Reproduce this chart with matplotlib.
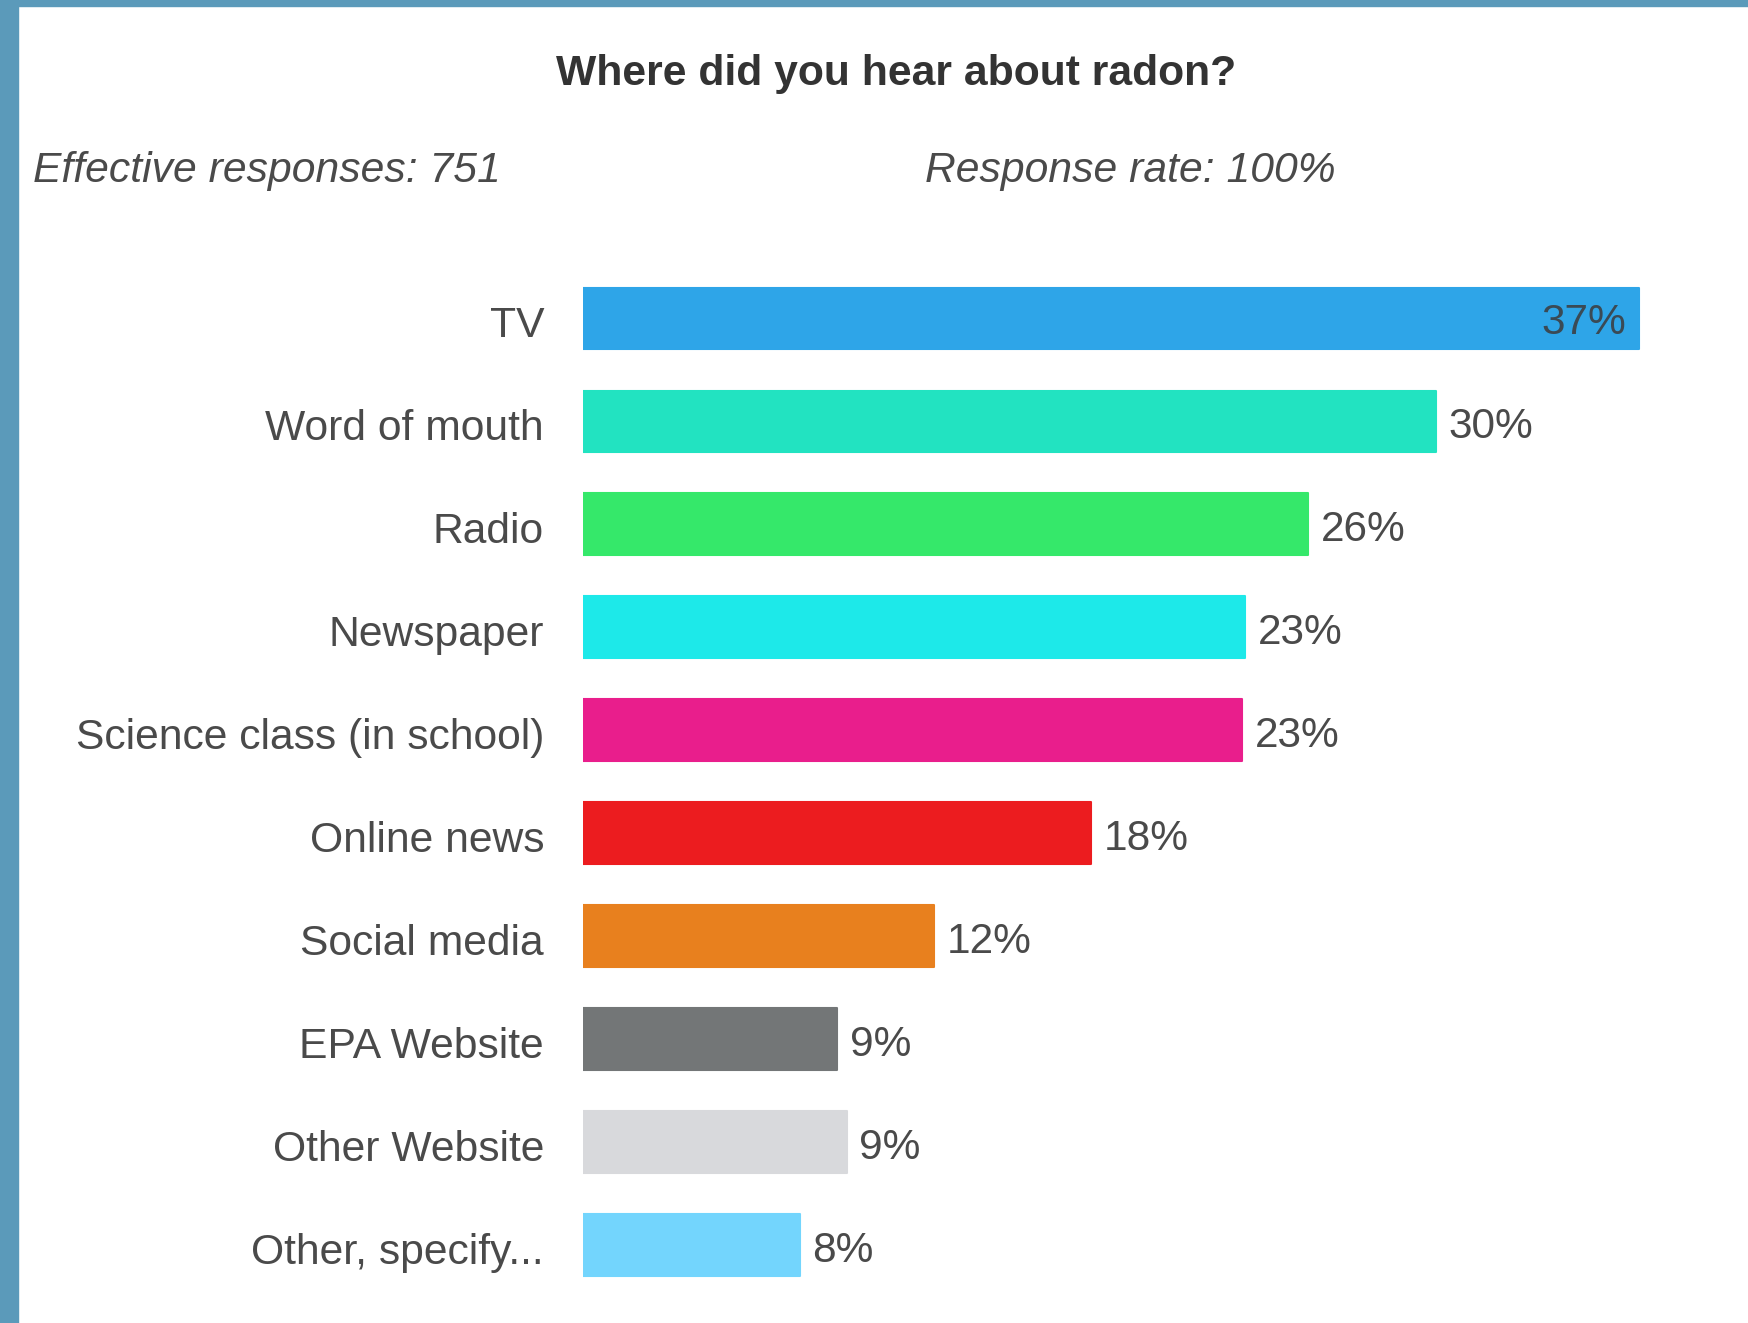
import matplotlib
matplotlib.use("Agg")
import matplotlib.pyplot as plt
from matplotlib.patches import Rectangle
from matplotlib.transforms import ScaledTranslation

categories = ["TV", "Word of mouth", "Radio", "Newspaper", "Science class (in school)",
              "Online news", "Social media", "EPA Website", "Other Website", "Other, specify..."]
values = [37.0, 29.9, 25.4, 23.2, 23.1, 17.8, 12.3, 8.9, 9.25, 7.6]
labels = ["37%", "30%", "26%", "23%", "23%", "18%", "12%", "9%", "9%", "8%"]
colors = ["#2ea5e8", "#22e3c1", "#35e86a", "#1de9e9", "#e91e8c",
          "#ec1c1f", "#e8801e", "#737677", "#d8d9dc", "#73d5fd"]

title = "Where did you hear about radon?"
left_note = "Effective responses: 751"
right_note = "Response rate: 100%"

W, H = 1748, 1323
plt.rcParams['font.family'] = ['Liberation Sans', 'DejaVu Sans']
fig = plt.figure(figsize=(W / 100, H / 100), dpi=100)
fig.patch.set_facecolor("white")

# frame border
border = "#5b9aba"
fig.patches.append(Rectangle((0, 0), 18 / W, 1, transform=fig.transFigure, color=border, zorder=0))
fig.patches.append(Rectangle((0, 1 - 6 / H), 1, 6 / H, transform=fig.transFigure, color=border, zorder=0))

ax_left = 583 / W
ax_width = 1141.6 / W
ax_top = 267 / H
ax_height = 1029.5 / H
ax = fig.add_axes([ax_left, 1 - ax_top - ax_height, ax_width, ax_height])
ax.set_xlim(0, 40)
ax.set_ylim(len(categories) - 0.5, -0.5)

ypos = list(range(len(categories)))
ax.barh(ypos, values, height=0.60, color=colors, edgecolor=colors, linewidth=1.5,
        joinstyle="round")

txt_color = "#4a4a4a"
for i, (v, lab) in enumerate(zip(values, labels)):
    if i == 0:
        ax.annotate(lab, (v, i), xytext=(-9, -3), textcoords="offset points",
                    ha="right", va="center", fontsize=30.5, color="#3a4a55")
    else:
        ax.annotate(lab, (v, i), xytext=(9, -4), textcoords="offset points",
                    ha="left", va="center", fontsize=30.5, color=txt_color)

ax.set_yticks(ypos)
ax.set_yticklabels(categories, fontsize=30.7, color=txt_color)
ax.tick_params(axis="y", length=0, pad=28)
shift = ScaledTranslation(0, -2.5 / 72, fig.dpi_scale_trans)
for t in ax.get_yticklabels():
    t.set_transform(t.get_transform() + shift)
ax.set_xticks([])
for s in ax.spines.values():
    s.set_visible(False)

fig.text(896 / W, 1 - 85 / H, title, ha="center", va="baseline", fontsize=30.7,
         fontweight="bold", color="#333333")
fig.text(33 / W, 1 - 182 / H, left_note, ha="left", va="baseline", fontsize=30.7,
         style="italic", color=txt_color)
fig.text(925 / W, 1 - 182 / H, right_note, ha="left", va="baseline", fontsize=30.7,
         style="italic", color=txt_color)

fig.savefig("out.png", dpi=100)
